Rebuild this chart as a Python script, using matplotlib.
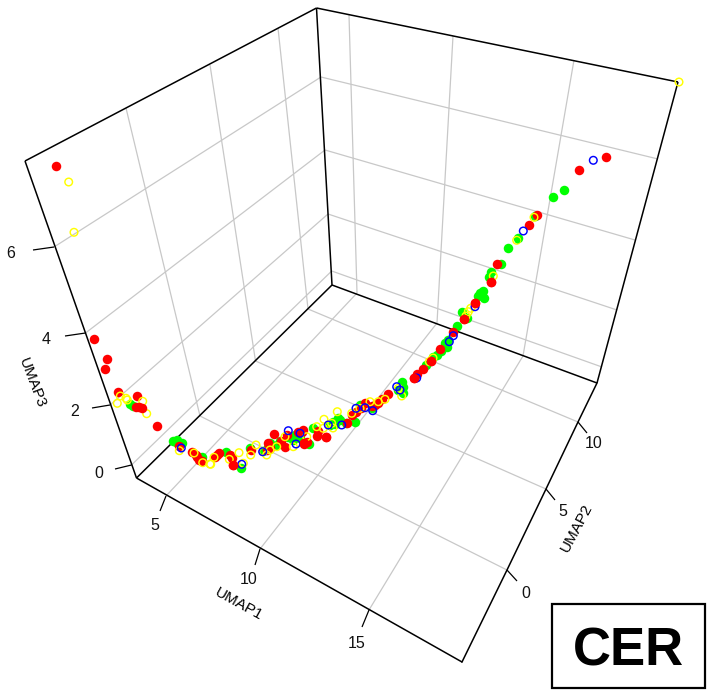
import numpy as np
import matplotlib
matplotlib.use("Agg")
import matplotlib.pyplot as plt
from matplotlib.patches import Rectangle

plt.rcParams['font.family'] = ['Liberation Sans', 'DejaVu Sans']

# Points, as projected on the 3D view (image coordinates)
green = [(130,404),(133.3,406),(173.3,440.7),(177.3,440),(181.7,443.3),(201.7,456.7),(200.7,458),
         (226,451.7),(240.7,468.3),(250,448.3),(270,442.7),(280,440.7),(295,435),(293.3,440),
         (306.7,443.3),(276.7,445),(262.7,450.7),(309.3,444),(312.7,428.3),(330,425),(338.3,418.3),
         (346,422.7),(355,421.7),(360,405),(401.7,381.7),(403.3,393.3),(398.3,390),(371.7,408.3),
         (333,421.7),(403,387),(432.7,357.3),(437.3,355),(445,343.3),(446.7,346.7),(456.7,326),
         (462.3,311.7),(466.7,318.3),(480,293.3),(482.7,290.7),(484.3,298.3),(478.3,296),(489,276.7),
         (490.7,271.7),(500.7,264.3),(507.7,248),(448.3,340),(563.7,190),(553.3,197),(517.7,238),
         (535,215.7),(340,420),(335,424),(288,437),(300,438),(268,447),(176,442),(441,351),(426,365)]
red = [(93.7,339.3),(107.3,359),(104.7,369.3),(117.7,391.7),(137.3,396),(156.7,426),(178.7,445.7),
       (192,451.7),(196,455),(197.3,457.3),(199.3,460),(216.7,455),(201.7,460.7),(215,456.7),
       (219.3,452.7),(230,455),(232.3,458.3),(233.3,465),(251,450),(270,448.3),(268,443),(274.3,434),
       (285,446.7),(286.7,435),(303.3,430),(304.3,444.3),(266.7,450),(301.7,431.7),(304,443.3),
       (316.7,436),(326,436.7),(346.7,422.7),(351.7,415),(365,403.3),(378.3,403.3),(388.3,394),
       (306.7,441.7),(375,405),(414,378.3),(417.3,374),(422.7,369.3),(431,361),(440,348.7),
       (452.7,331.7),(464,319.3),(475,303.3),(491.3,282.3),(496.7,264),(606,157.3),(579,170.3),
       (537,215),(528.7,225.3),(56.3,165.7),(298,432),(281,441),(372,406),(382,399),(361,408),
       (356,412),(318,431)]
yellow = [(120.3,396),(126,398.3),(117.3,403.3),(142.7,401.3),(138.7,407.3),(146.7,413.7),(127.3,400),
          (179.3,450.7),(194,453),(202.7,462.7),(210,464),(214,457.3),(210.7,464.3),(229.3,459.3),
          (239,452.7),(243.3,463.3),(250.7,455),(256,445),(263.3,451.7),(266.7,455),(270,450),
          (276.7,446.7),(285,436.7),(293.3,446.7),(306.7,436.7),(316.7,426.7),(324,419.3),(337.3,411.7),
          (323.3,428.3),(333,428),(351.7,413.3),(370,401.7),(378.3,401.7),(385,399.3),(398.3,388.3),
          (401.7,396),(360,408.3),(331.7,423.3),(429.3,361.7),(433,358),(468.3,311.7),(470.7,308.3),
          (466,316),(493.3,276),(679,82),(534,217.3),(516.7,240.3),(68.7,182),(74,232.3)]
blue = [(181.3,448),(241.7,464.3),(262.7,451.7),(288.3,430.7),(300,433.3),(296,444),(328.3,425),
        (356,408.3),(372.7,410.7),(365,407.7),(396.7,386.7),(400,390),(341.7,425),(416.7,378),
        (449.3,341.7),(453.3,335.7),(475,306.7),(593.3,160.3),(523.3,231)]
red_front = [(135.7,406.7),(141.7,408.3),(139,407),(414.3,378.3),(233,465),(304,443),(326,436.7),
             (491.3,282.3),(475,303),(464,319.3),(431,361)]
green_front = [(517,240.3)]

umap1_ticks = ['5', '10', '15']
umap2_ticks = ['0', '5', '10']
umap3_ticks = ['0', '2', '4', '6']

# Box geometry in the view
A, B, C, D = (136.5,478), (462,662), (597,383), (332,285)    # floor corners
A2, C2, D2 = (25,161), (678,82), (316.5,8)                   # top corners
u1_front = [(166,496), (260,549), (369,610)]
u1_back = [(357,293), (437,323), (523,356)]
u1_top = [(349,15), (453,36), (574,60)]
u2_right = [(507,570), (546,489), (578,422)]
u2_left = [(200,416), (255.5,361), (308,309)]
u2_top = [(126,108), (210,65), (278,28)]
u3_left = [(131.5,465), (110,405), (85.5,333), (54,247)]
u3_back = [(331.7,271), (328,214), (325,150), (321,77)]
u3_right = [(602,367), (617,310), (635,240), (658,159)]
u1_tick_end = [(160,511), (255,565), (362,627)]
u2_tick_end = [(517,581), (555,500), (587,433)]
u3_tick_end = [(115,469), (92,408), (65,336), (33,250)]
u1_label_pos = [(155,525), (249,580), (357,644)]
u2_label_pos = [(526,593), (563,511), (594,443)]
u3_label_pos = [(99,473), (75,411), (46,340), (11,254)]

fig = plt.figure(figsize=(7.08, 6.9), dpi=100)
ax = fig.add_axes([0, 0, 1, 1])
ax.set_xlim(0, 708)
ax.set_ylim(690, 0)
ax.axis('off')

def seg(p, q, color='black', lw=1.0, z=1):
    ax.plot([p[0], q[0]], [p[1], q[1]], color=color, lw=lw, zorder=z, solid_capstyle='butt')

GR = '#c8c8c8'
for f, b, t in zip(u1_front, u1_back, u1_top):
    seg(f, b, GR, lw=0.9); seg(b, t, GR, lw=0.9)
for r, l, t in zip(u2_right, u2_left, u2_top):
    seg(r, l, GR, lw=0.9); seg(l, t, GR, lw=0.9)
for l, b, r in zip(u3_left, u3_back, u3_right):
    seg(l, b, GR, lw=0.9); seg(b, r, GR, lw=0.9)

for p, q in [(A, B), (A, A2), (A2, D2), (D2, C2), (C2, C), (D2, D), (A, D), (D, C)]:
    seg(p, q, lw=1.1, z=2)
right_edge = [B] + u2_right[:] + [C]
ax.plot(*zip(*right_edge), color='black', lw=1.1, zorder=2)

for starts, ends, poss, labs in [(u1_front, u1_tick_end, u1_label_pos, umap1_ticks),
                                 (u2_right, u2_tick_end, u2_label_pos, umap2_ticks),
                                 (u3_left, u3_tick_end, u3_label_pos, umap3_ticks)]:
    for s, e, p, l in zip(starts, ends, poss, labs):
        seg(s, e, lw=0.9, z=2)
        ax.text(p[0], p[1], l, fontsize=11.5, ha='center', va='center', color='#111111')

ax.text(239, 604, 'UMAP1', fontsize=11, rotation=-29, ha='center', va='center', rotation_mode='anchor')
ax.text(577, 528, 'UMAP2', fontsize=11, rotation=62, ha='center', va='center', rotation_mode='anchor')
ax.text(32, 383, 'UMAP3', fontsize=11, rotation=-69, ha='center', va='center', rotation_mode='anchor')

def filled(pts, col, z):
    ax.scatter(*zip(*pts), s=47, c=col, linewidths=0, zorder=z)
def ring(pts, col, z):
    ax.scatter(*zip(*pts), s=30, facecolors='none', edgecolors=col, linewidths=1.05, zorder=z)

filled(green, '#00ff00', 3)
filled(red, '#ff0000', 4)
ring(yellow, '#ffff00', 5)
ring(blue, '#0000ff', 6)
filled(red_front, '#ff0000', 7)
ax.scatter(*zip(*green_front), s=18, c='#00ff00', linewidths=0, zorder=7)

ax.add_patch(Rectangle((552, 604), 153, 83.5, fill=False, ec='black', lw=1.6, zorder=8))
ax.text(628.5, 646.5, 'CER', fontsize=38, fontweight='bold', ha='center', va='center_baseline', zorder=9)

fig.savefig('out.png', dpi=100, facecolor='white')
